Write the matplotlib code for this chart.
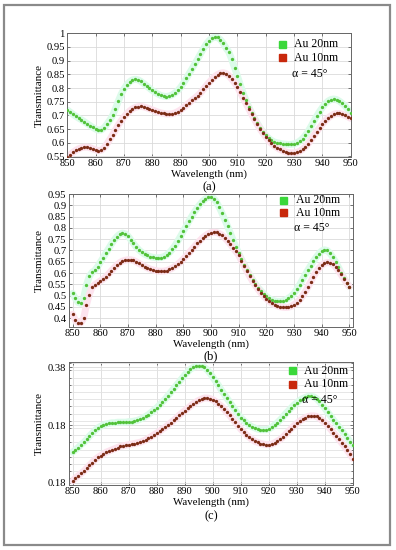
import matplotlib
matplotlib.use("Agg")
import matplotlib.pyplot as plt
from matplotlib.patches import Rectangle
from matplotlib.ticker import MultipleLocator
import numpy as np

plt.rcParams['font.family'] = ['Liberation Serif', 'DejaVu Serif']

W, H = 396, 550

# wavelength grid (nm), one point per nm
wl = np.arange(850, 951)

# (a)
a_20 = [0.720, 0.712, 0.704, 0.697, 0.690, 0.684, 0.677, 0.670, 0.663, 0.656,
        0.650, 0.646, 0.647, 0.655, 0.668, 0.683, 0.700, 0.725, 0.752, 0.777,
        0.797, 0.812, 0.823, 0.830, 0.832, 0.830, 0.824, 0.816, 0.808, 0.799,
        0.791, 0.784, 0.778, 0.773, 0.770, 0.769, 0.771, 0.775, 0.782, 0.791,
        0.803, 0.818, 0.835, 0.853, 0.870, 0.888, 0.906, 0.925, 0.943, 0.960,
        0.973, 0.982, 0.986, 0.985, 0.977, 0.964, 0.946, 0.932, 0.905, 0.875,
        0.845, 0.813, 0.783, 0.756, 0.732, 0.710, 0.690, 0.672, 0.655, 0.640,
        0.627, 0.617, 0.609, 0.603, 0.600, 0.598, 0.596, 0.595, 0.594, 0.594,
        0.596, 0.600, 0.606, 0.615, 0.627, 0.642, 0.660, 0.679, 0.697, 0.714,
        0.729, 0.742, 0.752, 0.758, 0.760, 0.758, 0.752, 0.744, 0.735, 0.722,
        0.707]
a_10 = [0.547, 0.556, 0.565, 0.572, 0.578, 0.582, 0.584, 0.584, 0.582, 0.578,
        0.574, 0.571, 0.573, 0.582, 0.596, 0.612, 0.629, 0.647, 0.665, 0.680,
        0.694, 0.706, 0.716, 0.724, 0.729, 0.732, 0.733, 0.731, 0.728, 0.724,
        0.720, 0.716, 0.712, 0.709, 0.707, 0.705, 0.705, 0.706, 0.709, 0.714,
        0.720, 0.728, 0.737, 0.746, 0.755, 0.763, 0.772, 0.782, 0.795, 0.808,
        0.820, 0.831, 0.841, 0.849, 0.854, 0.856, 0.853, 0.845, 0.833, 0.820,
        0.805, 0.785, 0.765, 0.745, 0.725, 0.705, 0.686, 0.668, 0.651, 0.636,
        0.622, 0.609, 0.598, 0.589, 0.582, 0.576, 0.571, 0.567, 0.564, 0.563,
        0.563, 0.565, 0.569, 0.576, 0.585, 0.597, 0.611, 0.626, 0.641, 0.655,
        0.668, 0.680, 0.690, 0.698, 0.704, 0.707, 0.707, 0.704, 0.700, 0.695,
        0.689]

# (b)
b_20 = [0.510, 0.488, 0.470, 0.466, 0.492, 0.547, 0.585, 0.603, 0.612, 0.628,
        0.648, 0.667, 0.688, 0.708, 0.728, 0.746, 0.761, 0.772, 0.777, 0.774,
        0.764, 0.748, 0.731, 0.715, 0.702, 0.692, 0.684, 0.678, 0.673, 0.670,
        0.668, 0.668, 0.669, 0.673, 0.680, 0.691, 0.705, 0.722, 0.742, 0.763,
        0.785, 0.807, 0.829, 0.850, 0.870, 0.888, 0.904, 0.918, 0.929, 0.936,
        0.937, 0.930, 0.914, 0.891, 0.864, 0.836, 0.807, 0.777, 0.746, 0.716,
        0.688, 0.662, 0.638, 0.614, 0.592, 0.571, 0.552, 0.536, 0.522, 0.509,
        0.497, 0.488, 0.481, 0.477, 0.475, 0.475, 0.477, 0.482, 0.489, 0.498,
        0.511, 0.528, 0.548, 0.570, 0.592, 0.613, 0.633, 0.652, 0.670, 0.686,
        0.698, 0.703, 0.700, 0.688, 0.670, 0.650, 0.627, 0.602, 0.578, 0.557,
        0.540]
b_10 = [0.418, 0.392, 0.380, 0.380, 0.400, 0.459, 0.505, 0.537, 0.548, 0.557,
        0.565, 0.573, 0.583, 0.596, 0.610, 0.623, 0.636, 0.646, 0.653, 0.657,
        0.659, 0.659, 0.656, 0.650, 0.643, 0.636, 0.629, 0.623, 0.618, 0.614,
        0.611, 0.609, 0.608, 0.609, 0.611, 0.616, 0.622, 0.630, 0.639, 0.650,
        0.662, 0.675, 0.689, 0.703, 0.717, 0.731, 0.744, 0.756, 0.766, 0.774,
        0.779, 0.781, 0.780, 0.775, 0.767, 0.756, 0.743, 0.728, 0.712, 0.696,
        0.680, 0.655, 0.631, 0.608, 0.586, 0.565, 0.546, 0.529, 0.513, 0.499,
        0.487, 0.476, 0.467, 0.460, 0.455, 0.451, 0.449, 0.448, 0.449, 0.453,
        0.460, 0.469, 0.481, 0.497, 0.516, 0.538, 0.561, 0.584, 0.605, 0.622,
        0.635, 0.643, 0.647, 0.646, 0.640, 0.628, 0.612, 0.594, 0.575, 0.557,
        0.540]

# (c)
c_20 = [0.233, 0.237, 0.241, 0.246, 0.250, 0.255, 0.261, 0.266, 0.271, 0.275,
        0.278, 0.280, 0.282, 0.283, 0.284, 0.284, 0.285, 0.285, 0.285, 0.285,
        0.286, 0.286, 0.287, 0.288, 0.290, 0.292, 0.295, 0.298, 0.302, 0.306,
        0.310, 0.315, 0.320, 0.325, 0.331, 0.337, 0.343, 0.349, 0.355, 0.361,
        0.367, 0.372, 0.377, 0.380, 0.382, 0.383, 0.382, 0.380, 0.376, 0.370,
        0.363, 0.356, 0.349, 0.341, 0.334, 0.327, 0.320, 0.313, 0.306, 0.299,
        0.293, 0.288, 0.284, 0.280, 0.277, 0.275, 0.273, 0.272, 0.272, 0.272,
        0.273, 0.276, 0.280, 0.284, 0.289, 0.294, 0.300, 0.305, 0.310, 0.315,
        0.319, 0.323, 0.326, 0.328, 0.330, 0.330, 0.329, 0.326, 0.321, 0.315,
        0.309, 0.302, 0.296, 0.289, 0.283, 0.277, 0.271, 0.264, 0.258, 0.251,
        0.245]
c_10 = [0.183, 0.188, 0.192, 0.196, 0.200, 0.205, 0.210, 0.215, 0.220, 0.224,
        0.227, 0.230, 0.233, 0.235, 0.237, 0.239, 0.241, 0.243, 0.244, 0.245,
        0.246, 0.247, 0.248, 0.249, 0.250, 0.252, 0.254, 0.257, 0.260, 0.263,
        0.266, 0.269, 0.273, 0.276, 0.280, 0.284, 0.288, 0.292, 0.297, 0.301,
        0.305, 0.309, 0.313, 0.317, 0.320, 0.323, 0.325, 0.327, 0.327, 0.326,
        0.324, 0.321, 0.317, 0.313, 0.308, 0.302, 0.297, 0.291, 0.285, 0.279,
        0.273, 0.268, 0.263, 0.259, 0.255, 0.252, 0.250, 0.248, 0.247, 0.246,
        0.246, 0.247, 0.249, 0.252, 0.255, 0.259, 0.264, 0.269, 0.274, 0.279,
        0.283, 0.287, 0.290, 0.293, 0.295, 0.296, 0.296, 0.295, 0.292, 0.288,
        0.284, 0.279, 0.273, 0.267, 0.261, 0.255, 0.249, 0.243, 0.236, 0.229,
        0.222]

legend_labels = ["Au 20nm", "Au 10nm"]
angle_text = "α = 45°"
c_ytick_vals = [0.18, 0.28, 0.38]
c_ytick_labels = ["0.18", "0.18", "0.38"]

GREEN = "#52c23a"
RED = "#7c2c16"
LEG_GREEN = "#3ad83a"
LEG_RED = "#c8280c"


def fx(x):
    return x / W


def fy(y):
    return 1 - y / H


def axes_px(left, top, right, bottom):
    return [fx(left), fy(bottom), (right - left) / W, (bottom - top) / H]


fig = plt.figure(figsize=(W / 100, H / 100), dpi=100)
fig.patches.append(Rectangle((fx(4), fy(545)), fx(386), 540 / H,
                             transform=fig.transFigure, fill=False,
                             edgecolor="#8a8a8a", lw=1.6))

panels = [
    dict(rect=(67.3, 33.3, 350.7, 157), xlim=(850, 950), ylim=(0.548, 1.0),
         g=a_20, r=a_10, cap="(a)", xl_y=174.5, cap_y=187.5,
         leg=(282.7, 44.3, 57.8, 294, 74)),
    dict(rect=(69, 194, 352.7, 327), xlim=(848.7, 951.2), ylim=(0.3615, 0.95),
         g=b_20, r=b_10, cap="(b)", xl_y=344, cap_y=356.5,
         leg=(283.3, 200, 212.7, 296, 228)),
    dict(rect=(69, 362.3, 353, 485), xlim=(848.7, 950), ylim=(0.176, 0.389),
         g=c_20, r=c_10, cap="(c)", xl_y=502, cap_y=516,
         leg=(292.7, 370.7, 384.3, 304, 400)),
]

for i, p in enumerate(panels):
    l, t, r, b = p["rect"]
    ax = fig.add_axes(axes_px(l, t, r, b))
    ax.set_axisbelow(True)
    ax.plot(wl, p["g"], color="#dcfbea", lw=5, zorder=1.5, solid_capstyle="round")
    ax.plot(wl, p["r"], color="#fde3ee", lw=5, zorder=1.5, solid_capstyle="round")
    ax.plot(wl, p["g"], ls="", marker="o", ms=2.4, mew=0, color=GREEN, zorder=3)
    ax.plot(wl, p["r"], ls="", marker="o", ms=2.4, mew=0, color=RED, zorder=3)
    ax.set_xlim(*p["xlim"])
    ax.set_ylim(*p["ylim"])
    ax.set_xticks(np.arange(850, 951, 10))
    if i == 0:
        yt = np.arange(0.55, 1.001, 0.05)
        ax.set_yticks(yt)
        ax.set_yticklabels(["%g" % round(v, 2) for v in yt])
    elif i == 1:
        yt = np.arange(0.4, 0.951, 0.05)
        ax.set_yticks(yt)
        ax.set_yticklabels(["%g" % round(v, 2) for v in yt])
    else:
        ax.set_yticks(c_ytick_vals)
        ax.set_yticklabels(c_ytick_labels)
        ax.yaxis.set_minor_locator(MultipleLocator(0.0125))
        ax.grid(True, which="minor", axis="y", color="#e2e2e2", lw=0.6)
    ax.grid(True, which="major", color="#dadada", lw=0.6)
    ax.tick_params(which="both", direction="in", length=2, width=0.5,
                   labelsize=7.6, pad=1.8, top=True, right=True, colors="#444",
                   labelcolor="black")
    ax.tick_params(which="minor", length=1.3)
    for s in ax.spines.values():
        s.set_linewidth(0.7)
        s.set_color("#666666")
    ax.set_ylabel("Transmittance", fontsize=8)
    ax.yaxis.set_label_coords((44 - l) / (r - l), 0.5)
    fig.text(fx((l + r) / 2), fy(p["xl_y"]), "Wavelength (nm)", fontsize=7.8,
             ha="center", va="center")
    fig.text(fx((l + r) / 2), fy(p["cap_y"]), p["cap"], fontsize=9,
             ha="center", va="center")

    sx, gy, ry, tx, ay = p["leg"]
    fig.patches.append(Rectangle((fx(sx - 3.5), fy(gy + 3.5)), 7 / W, 7 / H,
                                 transform=fig.transFigure, color=LEG_GREEN))
    fig.patches.append(Rectangle((fx(sx - 3.5), fy(ry + 3.5)), 7 / W, 7 / H,
                                 transform=fig.transFigure, color=LEG_RED))
    fig.text(fx(tx), fy(gy), legend_labels[0], fontsize=8.5, va="center")
    fig.text(fx(tx), fy(ry), legend_labels[1], fontsize=8.5, va="center")
    fig.text(fx(tx - 2), fy(ay), angle_text, fontsize=8.5, va="center")

fig.savefig("out.png", dpi=100)
